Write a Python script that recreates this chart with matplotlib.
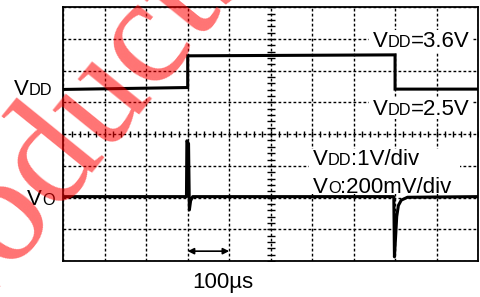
import numpy as np
import matplotlib
matplotlib.use("Agg")
import matplotlib.pyplot as plt
from matplotlib.patches import Rectangle

W, H = 480, 297

# --- data (in scope divisions) ---
vdd_t = [0.0, 3.0, 3.0, 8.0, 8.0, 10.0]
vdd_v = [1.41, 1.47, 2.47, 2.50, 1.42, 1.42]

vo_t = [0.0, 2.97, 2.98, 3.02, 3.04, 3.07, 3.12, 7.97, 7.985, 8.01, 8.04, 8.08, 8.15, 8.3, 10.0]
vo_v = [-1.97, -1.97, -0.21, -0.3, -2.39, -2.1, -1.97, -1.97, -3.87, -3.3, -2.6, -2.25, -2.08, -1.99, -1.97]

arrow_span = [3.0, 4.0]
arrow_y = -3.69

fig = plt.figure(figsize=(W / 100, H / 100), dpi=100)
ax = fig.add_axes([63.3 / W, 1 - 261 / H, (478 - 63.3) / W, (261 - 7.3) / H])
ax.set_xlim(0, 10)
ax.set_ylim(-4, 4)
ax.set_xticks(np.arange(0, 11, 1))
ax.set_yticks(np.arange(-4, 5, 1))
ax.tick_params(length=0, labelbottom=False, labelleft=False)
ax.grid(True, color="black", lw=1.0, ls=(0, (2, 1.6)))
ax.set_axisbelow(True)
for s in ax.spines.values():
    s.set_linewidth(1.3)
    s.set_zorder(6)

# center graticule minor ticks
mx = np.arange(0, 10.001, 0.2)
ax.plot(mx, np.zeros_like(mx), ls="none", marker="|", ms=5, mew=1.0, color="black", zorder=1.5)
my = np.arange(-4, 4.001, 0.2)
ax.plot(np.full_like(my, 5.0), my, ls="none", marker="_", ms=6, mew=1.0, color="black", zorder=1.5)

ax.plot(vdd_t, vdd_v, color="black", lw=2.2, solid_joinstyle="miter", zorder=5)
ax.plot(vo_t, vo_v, color="black", lw=2.2, zorder=5)

ax.annotate("", xy=(arrow_span[0], arrow_y), xytext=(arrow_span[1], arrow_y),
            arrowprops=dict(arrowstyle="<|-|>", lw=1.2, color="black", mutation_scale=9,
                            shrinkA=0, shrinkB=0))

renderer = fig.canvas.get_renderer()
FS = 16
SMALL = FS * 0.74
FAM = "Liberation Sans"


def compound(x_px, y_px, parts):
    x = x_px
    for s, size in parts:
        t = fig.text(x / W, 1 - y_px / H, s, fontsize=size, family=FAM,
                     ha="left", va="baseline", color="black", zorder=4)
        x += t.get_window_extent(renderer).width


def white_box(x0_px, y0_px, x1_px, y1_px):
    inv = ax.transData.inverted()
    (dx0, dy0) = inv.transform((x0_px, H - y1_px))
    (dx1, dy1) = inv.transform((x1_px, H - y0_px))
    ax.add_patch(Rectangle((dx0, dy0), dx1 - dx0, dy1 - dy0, facecolor="white",
                           edgecolor="none", zorder=2))


white_box(369, 30, 472, 52)
white_box(369, 97, 472, 119)
white_box(309, 149, 460, 194)

compound(14, 95, [("V", FS), ("DD", SMALL)])
compound(27, 205, [("V", FS), ("O", SMALL)])
compound(373, 47, [("V", FS), ("DD", SMALL), ("=3.6V", FS)])
compound(373, 115, [("V", FS), ("DD", SMALL), ("=2.5V", FS)])
compound(313, 165, [("V", FS), ("DD", SMALL), (":1V/div", FS)])
compound(313, 193, [("V", FS), ("O", SMALL), (":200mV/div", FS)])
fig.text(192 / W, 1 - 288 / H, "100\u00b5s", fontsize=FS, family=FAM,
         ha="left", va="baseline", color="black")

# watermark
fig.text(64 / W, 1 - 146 / H, "Products", fontsize=110, family="Liberation Serif",
         rotation=51, rotation_mode="anchor", ha="center", va="center",
         color="red", alpha=0.55, zorder=10)

fig.savefig("out.png", dpi=100)
